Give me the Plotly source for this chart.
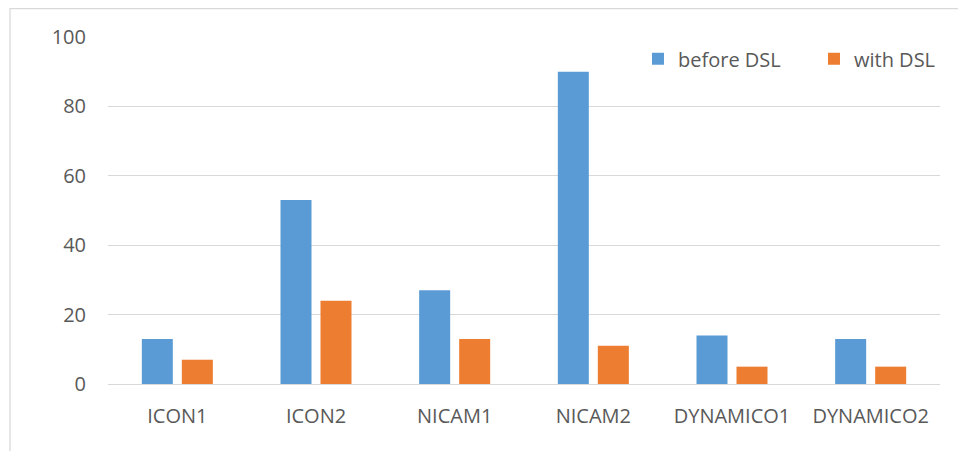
import plotly.graph_objects as go

categories = ["ICON1", "ICON2", "NICAM1", "NICAM2", "DYNAMICO1", "DYNAMICO2"]
before_dsl = [13, 53, 27, 90, 14, 13]
with_dsl = [7, 24, 13, 11, 5, 5]
series_names = ["before DSL", "with DSL"]
y_ticks = [0, 20, 40, 60, 80, 100]

BLUE = "#5B9BD5"
ORANGE = "#ED7D31"
TEXT = "#595959"
GRID = "#D9D9D9"
FONT = "Open Sans"

fig = go.Figure()
fig.add_trace(go.Bar(x=categories, y=before_dsl, name=series_names[0],
                     marker=dict(color=BLUE, line=dict(width=0))))
fig.add_trace(go.Bar(x=categories, y=with_dsl, name=series_names[1],
                     marker=dict(color=ORANGE, line=dict(width=0))))

fig.update_layout(
    width=958, height=443,
    margin=dict(l=100, r=26, t=29, b=67, autoexpand=False),
    paper_bgcolor="white", plot_bgcolor="white",
    barmode="group", bargap=0.423, bargroupgap=0.225,
    font=dict(family=FONT, size=20, color=TEXT),
    showlegend=True,
    legend=dict(orientation="h", x=0.637, xanchor="left", y=0.937, yanchor="middle",
                bgcolor="rgba(0,0,0,0)", font=dict(family=FONT, size=20, color=TEXT),
                entrywidth=131, entrywidthmode="pixels", traceorder="normal"),
    xaxis=dict(showgrid=False, showline=False, zeroline=False, ticks="",
               tickfont=dict(family=FONT, size=20, color=TEXT), ticklabelstandoff=18),
    yaxis=dict(range=[0, 100], tickvals=y_ticks, showgrid=True, gridcolor=GRID, gridwidth=1.3,
               zeroline=True, zerolinecolor=GRID, zerolinewidth=1.3, showline=False, ticks="",
               tickfont=dict(family=FONT, size=20, color=TEXT), ticklabelstandoff=21),
    shapes=[dict(type="rect", xref="paper", yref="paper",
                 x0=-0.1178, x1=1.2, y0=-0.3, y1=1.0816,
                 line=dict(color=GRID, width=1.3), fillcolor="rgba(0,0,0,0)", layer="below")],
)

fig.write_html("out.html")
